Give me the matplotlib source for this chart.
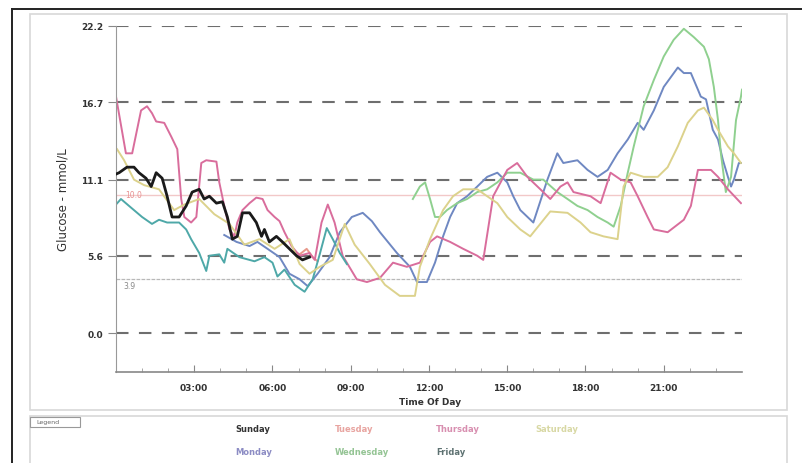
import matplotlib
matplotlib.use("Agg")
from matplotlib import pyplot as plt
from matplotlib.lines import Line2D
from matplotlib.patches import Rectangle
import numpy as np

# glucose traces, hours of day vs mmol/L
sun_h = [0, 0.12, 0.42, 0.69, 0.88, 1.15, 1.35, 1.54, 1.77, 1.96, 2.15, 2.42, 2.69, 2.92,
         3.19, 3.38, 3.58, 3.85, 4.08, 4.27, 4.46, 4.65, 4.85, 5.12, 5.38, 5.58, 5.69,
         5.88, 6.15, 6.38, 6.65, 6.92, 7.15, 7.42]
sun_v = [11.5, 11.6, 12.0, 12.0, 11.6, 11.2, 10.6, 11.6, 11.2, 9.9, 8.4, 8.4, 9.2, 10.2,
         10.4, 9.7, 9.9, 9.4, 9.5, 8.4, 6.8, 7.0, 8.7, 8.7, 8.0, 7.0, 7.5,
         6.6, 7.0, 6.6, 6.1, 5.6, 5.3, 5.5]

mon_h = [4.15, 4.62, 5.12, 5.42, 5.81, 6.27, 6.65, 7.04, 7.35, 7.73, 8.19, 8.58, 9.04,
         9.46, 9.81, 10.12, 10.77, 11.27, 11.54, 11.92, 12.23, 12.54, 12.81, 13.08, 13.46,
         13.85, 14.23, 14.62, 15.0, 15.23, 15.5, 16.0, 16.54, 16.92, 17.15, 17.69, 18.08,
         18.46, 18.85, 19.23, 19.62, 20.0, 20.23, 20.62, 21.0, 21.54, 21.77, 22.04, 22.31,
         22.42, 22.62, 22.88, 23.08, 23.27, 23.46, 23.58, 23.69, 23.88, 24.0]
mon_v = [7.1, 6.6, 6.3, 6.6, 6.1, 5.5, 4.3, 3.9, 3.4, 4.3, 5.5, 7.3, 8.4,
         8.7, 8.1, 7.3, 5.8, 4.8, 3.7, 3.7, 5.1, 7.0, 8.4, 9.4, 9.9,
         10.6, 11.3, 11.6, 10.9, 9.9, 8.9, 8.0, 11.1, 13.0, 12.3, 12.5, 11.8,
         11.3, 11.8, 13.0, 14.0, 15.2, 14.7, 16.1, 17.8, 19.2, 18.8, 18.8, 17.6,
         17.1, 16.9, 14.7, 14.0, 12.5, 11.3, 10.6, 11.1, 12.3, 12.3]

tue_h = [6.85, 7.04, 7.31, 7.54, 7.73]
tue_v = [5.9, 5.7, 6.1, 5.5, 5.2]

wed_h = [11.38, 11.65, 11.85, 12.04, 12.23, 12.42, 12.69, 13.08, 13.46, 13.85, 14.23,
         14.62, 15.0, 15.5, 16.0, 16.38, 16.92, 17.31, 17.69, 18.08, 18.46, 18.85, 19.08,
         19.35, 19.62, 19.85, 20.23, 20.62, 21.0, 21.38, 21.77, 22.15, 22.54, 22.73, 22.92,
         23.08, 23.19, 23.38, 23.58, 23.77, 23.96, 24.0]
wed_v = [9.7, 10.6, 10.9, 9.7, 8.4, 8.4, 8.9, 9.4, 9.7, 10.2, 10.4,
         10.9, 11.6, 11.6, 11.1, 11.1, 10.2, 9.7, 9.2, 8.9, 8.4, 8.0, 7.7,
         9.2, 11.6, 13.5, 16.4, 18.3, 20.0, 21.2, 22.0, 21.4, 20.7, 19.8, 17.8,
         15.4, 13.0, 10.2, 11.3, 15.4, 17.1, 17.6]

thu_h = [0, 0.38, 0.62, 0.96, 1.19, 1.38, 1.54, 1.85, 2.12, 2.35, 2.5, 2.62, 2.88, 3.08,
         3.27, 3.46, 3.85, 3.96, 4.15, 4.35, 4.54, 4.65, 4.85, 5.12, 5.38, 5.62, 5.81,
         6.08, 6.27, 6.46, 6.73, 7.04, 7.42, 7.62, 7.88, 8.12, 8.38, 8.69, 9.23, 9.62,
         10.12, 10.62, 11.15, 11.65, 12.04, 12.31, 12.81, 13.31, 13.85, 14.08, 14.46, 15.0,
         15.38, 15.77, 16.27, 16.65, 17.04, 17.31, 17.54, 18.19, 18.58, 18.96, 19.35, 19.73,
         20.0, 20.38, 20.62, 21.15, 21.77, 22.04, 22.31, 22.81, 23.08, 23.46, 23.96]
thu_v = [17.1, 13.0, 13.0, 16.1, 16.4, 15.9, 15.3, 15.2, 14.2, 13.3, 9.7, 8.4, 8.0, 8.4,
         12.3, 12.5, 12.4, 10.9, 9.2, 7.5, 7.0, 8.0, 8.9, 9.4, 9.8, 9.7, 8.9,
         8.4, 8.1, 7.3, 6.3, 5.6, 5.8, 5.3, 8.0, 9.3, 8.0, 5.6, 3.9, 3.7,
         4.0, 5.1, 4.8, 5.1, 6.6, 7.0, 6.6, 6.1, 5.6, 5.3, 9.9, 11.8,
         12.3, 11.3, 10.4, 9.7, 10.6, 10.9, 10.2, 9.9, 9.4, 11.6, 11.1, 10.9,
         9.9, 8.4, 7.5, 7.3, 8.2, 9.2, 11.8, 11.8, 11.3, 10.4, 9.4]

fri_h = [0, 0.19, 0.5, 1.0, 1.38, 1.65, 1.96, 2.42, 2.69, 2.88, 3.19, 3.46, 3.58, 3.96,
         4.15, 4.27, 4.73, 5.31, 5.69, 6.0, 6.19, 6.46, 6.85, 7.23, 7.54, 7.81, 8.08,
         8.31, 8.58, 8.85]
fri_v = [9.3, 9.7, 9.2, 8.4, 7.9, 8.2, 8.0, 8.0, 7.5, 6.8, 5.8, 4.5, 5.6, 5.7,
         5.1, 6.1, 5.5, 5.2, 5.5, 5.1, 4.1, 4.6, 3.5, 3.0, 3.9, 5.7, 7.6,
         6.8, 5.8, 5.0]

sat_h = [0.04, 0.31, 0.69, 1.08, 1.65, 2.23, 2.62, 3.19, 3.77, 4.35, 4.92, 5.5, 6.08,
         6.65, 7.04, 7.42, 7.81, 8.31, 8.77, 9.15, 9.73, 10.31, 10.88, 11.46, 11.65,
         12.04, 12.54, 12.92, 13.31, 13.85, 14.23, 14.62, 15.0, 15.5, 15.88, 16.65, 17.31,
         17.81, 18.19, 18.69, 19.23, 19.46, 19.73, 20.23, 20.77, 21.15, 21.54, 21.92,
         22.31, 22.54, 22.88, 23.08, 23.46, 23.69, 23.96]
sat_v = [13.3, 12.5, 11.1, 10.7, 10.4, 8.9, 9.3, 9.7, 8.6, 7.9, 6.4, 6.8, 6.1,
         6.8, 5.0, 4.3, 4.8, 5.3, 7.9, 6.4, 5.0, 3.5, 2.7, 2.7, 4.8,
         6.8, 8.9, 9.9, 10.4, 10.4, 9.9, 9.4, 8.4, 7.5, 7.0, 8.8, 8.7,
         8.0, 7.3, 7.0, 6.8, 10.6, 11.6, 11.3, 11.3, 12.0, 13.5, 15.2,
         16.1, 16.3, 15.4, 14.7, 13.5, 13.0, 12.3]

days = ["Sunday", "Monday", "Tuesday", "Wednesday", "Thursday", "Friday", "Saturday"]
traces = {
    "Sunday": (sun_h, sun_v),
    "Monday": (mon_h, mon_v),
    "Tuesday": (tue_h, tue_v),
    "Wednesday": (wed_h, wed_v),
    "Thursday": (thu_h, thu_v),
    "Friday": (fri_h, fri_v),
    "Saturday": (sat_h, sat_v),
}
line_colors = {
    "Sunday": "#1a1a1a", "Monday": "#6f88c2", "Tuesday": "#e89a8c",
    "Wednesday": "#8fd08f", "Thursday": "#d96d9c", "Friday": "#4ea8a8",
    "Saturday": "#dcd28c",
}
text_colors = {
    "Sunday": "#333333", "Monday": "#8c8cc4", "Tuesday": "#e8a4a0",
    "Wednesday": "#94c494", "Thursday": "#d88fb0", "Friday": "#5e7272",
    "Saturday": "#d8d8a4",
}

y_ticks = [0.0, 5.6, 11.1, 16.7, 22.2]
x_ticks = [3, 6, 9, 12, 15, 18, 21]
x_labels = ["03:00", "06:00", "09:00", "12:00", "15:00", "18:00", "21:00"]
high_target, low_target = 10.0, 3.9

W, H = 803, 464
fig = plt.figure(figsize=(W / 100, H / 100), dpi=100)
ax = fig.add_axes([116 / W, 1 - 373 / H, (742 - 116) / W, (373 - 27) / H])

# frames around plot and legend panels
def px(x, y):
    return x / W, 1 - y / H

fig.add_artist(Line2D([px(12, 0)[0], 1], [px(0, 10)[1]] * 2, color="#222222", lw=1.4))
fig.add_artist(Line2D([px(12, 0)[0]] * 2, [0, px(0, 10)[1]], color="#222222", lw=1.4))
fig.add_artist(Rectangle(px(30, 411), (787 - 30) / W, (411 - 15) / H, fill=False,
                         ec="#d8d8d8", lw=1.2))
fig.add_artist(Rectangle(px(30, 470), (787 - 30) / W, (470 - 417) / H, fill=False,
                         ec="#d8d8d8", lw=1.2))
fig.add_artist(Rectangle(px(30, 428), 50 / W, 10 / H, fill=False, ec="#999999", lw=0.8))
fig.text(*px(36, 423), "Legend", fontsize=4.5, color="#666666", va="center")

# reference lines
for yv in y_ticks:
    ax.axhline(yv, color="#6e6e6e", lw=1.5, dashes=(6, 5), zorder=1)
ax.axhline(high_target, color="#f2c8c8", lw=1.0, zorder=1)
ax.axhline(low_target, color="#b8b8b8", lw=0.9, dashes=(3, 1), zorder=1)
ax.text(0.35, high_target, "10.0", color="#e89090", fontsize=5.5, va="center")
ax.text(0.3, low_target - 0.45, "3.9", color="#888888", fontsize=5.5, va="center")

for d in days:
    h, v = traces[d]
    lw = 2.0 if d == "Sunday" else 1.4
    ax.plot(h, v, color=line_colors[d], lw=lw, zorder=3 if d == "Sunday" else 2)

ax.set_xlim(0, 24)
ax.set_ylim(-2.8, 22.2)
for s in ["top", "right"]:
    ax.spines[s].set_visible(False)
ax.spines["left"].set_color("#999999")
ax.spines["bottom"].set_color("#888888")
ax.spines["bottom"].set_linewidth(1.2)

ax.set_yticks(y_ticks)
ax.set_yticklabels(["%.1f" % t for t in y_ticks], fontsize=6.5, fontweight="bold",
                   color="#333333")
ax.tick_params(axis="y", length=6, width=0.8, color="#888888", pad=3)
ax.set_xticks(x_ticks)
ax.set_xticklabels(x_labels, fontsize=6.5, fontweight="bold", color="#333333")
ax.set_xticks(np.arange(1, 24), minor=True)
ax.tick_params(axis="x", which="major", direction="in", length=5, color="#888888", pad=8)
ax.tick_params(axis="x", which="minor", direction="in", length=3, color="#999999")

ax.set_xlabel("Time Of Day", fontsize=6.5, fontweight="bold", color="#333333", labelpad=0)
ax.xaxis.set_label_coords((430 - 116) / (742 - 116), -(25 / (373 - 27)))
fig.text(*px(63, 200), "Glucose - mmol/L", rotation=90, fontsize=8.5, color="#333333",
         ha="center", va="center")

# legend entries
legend_pos = {
    "Sunday": (235, 430), "Tuesday": (335, 430), "Thursday": (436, 430),
    "Saturday": (535, 430), "Monday": (235, 453), "Wednesday": (335, 453),
    "Friday": (436, 453),
}
for d in days:
    fig.text(*px(*legend_pos[d]), d, fontsize=6, fontweight="bold",
             color=text_colors[d], va="center")

fig.savefig("out.png", dpi=100)
